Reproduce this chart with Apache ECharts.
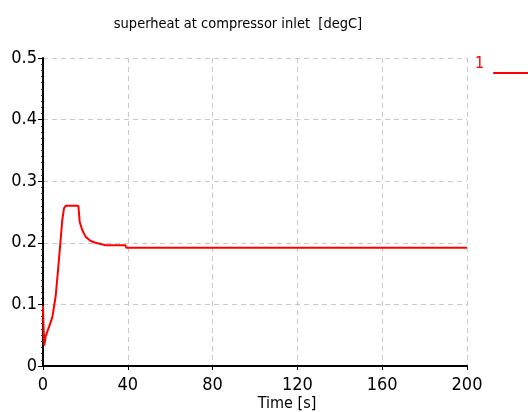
<!DOCTYPE html>
<html>
<head>
<meta charset="utf-8">
<script src="https://cdn.jsdelivr.net/npm/echarts@6/dist/echarts.min.js"></script>
<style>
  html, body { margin: 0; padding: 0; background: #fff; }
  #chart { width: 528px; height: 412px; }
</style>
</head>
<body>
<div id="chart"></div>
<script>
// time stamps [s] and superheat values [degC]
const timeSec = [0, 0.3, 0.6, 1.3, 2.8, 4.4, 6.0, 7.2, 8.3, 9.1, 9.9, 10.7, 16.7, 17.3, 18.6, 20.1, 22.5, 24.8, 29.6, 38.8, 39.3, 60, 100, 140, 200]
const superheat = [0.098, 0.06, 0.033, 0.049, 0.063, 0.079, 0.114, 0.16, 0.204, 0.237, 0.256, 0.26, 0.26, 0.234, 0.22, 0.21, 0.203, 0.2, 0.196, 0.196, 0.192, 0.192, 0.192, 0.192, 0.192]
const xTicks = [0, 40, 80, 120, 160, 200]
const yTicks = [0, 0.1, 0.2, 0.3, 0.4, 0.5]

const narrow = "'Liberation Sans Narrow', 'DejaVu Sans Condensed', 'Liberation Sans', sans-serif"

const chart = echarts.init(document.getElementById('chart'))

const option = {
  animation: false,
  backgroundColor: '#fff',
  title: {
    text: 'superheat at compressor inlet  [degC]',
    left: 233,
    textAlign: 'center',
    top: 12,
    textStyle: { fontFamily: narrow, fontSize: 14.5, fontWeight: 'normal', color: '#000' },
  },
  legend: {
    data: ['1'],
    left: 470,
    top: 51,
    align: 'right',
    icon: 'rect',
    itemWidth: 37,
    itemHeight: 2,
    formatter: '{a|{name}}',
    textStyle: {
      rich: {
        a: { fontFamily: narrow, fontSize: 16, color: '#ff0000', padding: [0, 4, 18, 0] },
      },
    },
  },
  grid: { left: 43, right: 61, top: 58, bottom: 46, outerBoundsMode: 'none', containLabel: false },
  xAxis: {
    type: 'value',
    min: xTicks[0],
    max: xTicks[xTicks.length - 1],
    interval: 40,
    name: 'Time [s]',
    nameLocation: 'middle',
    nameGap: 30,
    nameMoveOverlap: false,
    nameTextStyle: { fontFamily: narrow, fontSize: 16, color: '#000', padding: [0, 0, 0, 64] },
    axisLine: { show: true, lineStyle: { color: '#000', width: 2 } },
    axisTick: { show: true, length: 4, lineStyle: { color: '#000' } },
    axisLabel: { fontFamily: narrow, fontSize: 18, color: '#000', margin: 10 },
    splitLine: { show: true, lineStyle: { color: '#c8c8c8', type: [5, 4] } },
  },
  yAxis: {
    type: 'value',
    min: yTicks[0],
    max: yTicks[yTicks.length - 1],
    interval: 0.1,
    axisLine: { show: true, lineStyle: { color: '#000', width: 2 } },
    axisTick: { show: true, length: 5, lineStyle: { color: '#000' } },
    minorTick: { show: true, splitNumber: 10, length: 2, lineStyle: { color: '#333' } },
    axisLabel: { fontFamily: narrow, fontSize: 18, color: '#000', margin: 6 },
    splitLine: { show: true, lineStyle: { color: '#c8c8c8', type: [5, 4] } },
  },
  series: [
    {
      name: '1',
      type: 'line',
      data: timeSec.map((t, i) => [t, superheat[i]]),
      symbol: 'none',
      itemStyle: { color: '#ff0000' },
      lineStyle: { color: '#ff0000', width: 2 },
    },
  ],
}

chart.setOption(option)
</script>
</body>
</html>
